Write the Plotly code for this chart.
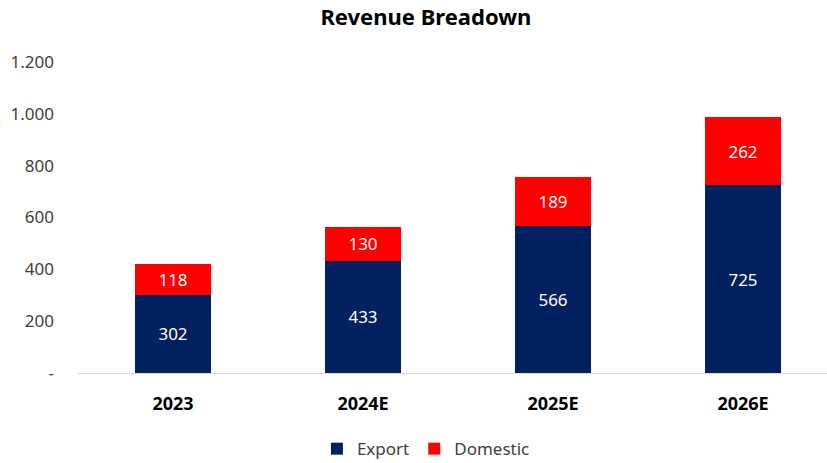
import plotly.graph_objects as go

categories = ["2023", "2024E", "2025E", "2026E"]
export_vals = [302, 433, 566, 725]
domestic_vals = [118, 130, 189, 262]
y_tickvals = [0, 200, 400, 600, 800, 1000, 1200]
y_ticktext = ["-", "200", "400", "600", "800", "1.000", "1.200"]

FONT = "Noto Sans, Open Sans, sans-serif"

fig = go.Figure()
fig.add_trace(go.Bar(
    x=categories, y=export_vals, name="Export",
    marker=dict(color="#002060", line=dict(width=0)),
    text=[str(v) for v in export_vals], textposition="inside",
    insidetextanchor="middle",
    textfont=dict(color="white", size=17, family=FONT),
))
fig.add_trace(go.Bar(
    x=categories, y=domestic_vals, name="Domestic",
    marker=dict(color="#FF0000", line=dict(width=0)),
    text=[str(v) for v in domestic_vals], textposition="inside",
    insidetextanchor="middle",
    textfont=dict(color="white", size=17, family=FONT),
))

fig.update_layout(
    barmode="stack",
    bargap=0.605,
    width=827, height=463,
    margin=dict(l=78, r=0, t=62, b=90, autoexpand=False),
    paper_bgcolor="white", plot_bgcolor="white",
    font=dict(family=FONT, size=17, color="#404040"),
    title=dict(text="<b>Revenue Breadown</b>", x=0.515, xanchor="center",
               xref="container", y=0.962, yanchor="middle", yref="container",
               font=dict(size=22, color="black", family=FONT)),
    uniformtext=dict(mode="show", minsize=10),
    legend=dict(orientation="h", xref="container", x=0.515, xanchor="center",
                yref="container", y=0.030, yanchor="middle",
                font=dict(size=17, color="#404040", family=FONT),
                itemwidth=30, traceorder="normal"),
    showlegend=True,
)
fig.update_xaxes(
    range=[-0.5, 3.442], automargin=False,
    showline=True, linecolor="#D9D9D9", linewidth=1,
    showgrid=False, ticks="",
    tickfont=dict(size=18, color="black", family=FONT),
    ticklabelstandoff=14,
    tickprefix="<b>", ticksuffix="</b>",
)
fig.update_yaxes(
    range=[0, 1200], automargin=False,
    tickvals=y_tickvals, ticktext=y_ticktext,
    showgrid=False, zeroline=False, showline=False, ticks="",
    tickfont=dict(size=17, color="#404040", family=FONT),
    ticklabelstandoff=23,
)

fig.write_html(
    "out.html",
    config={"displayModeBar": False},
    post_script="document.body.style.margin='0';document.body.style.overflow='hidden';",
)
